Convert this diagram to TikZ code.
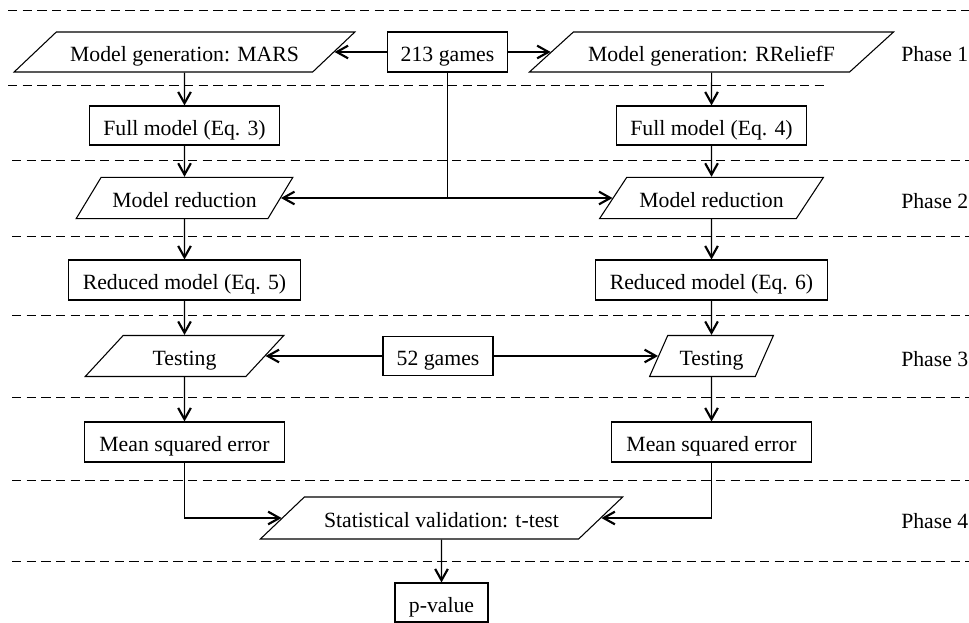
\documentclass[tikz,border=0pt]{standalone}
\usepackage{fontspec}
\setmainfont{Liberation Serif}
\usetikzlibrary{shapes.geometric,arrows.meta}
\begin{document}
\begin{tikzpicture}[x=0.75pt,y=-0.75pt,
  every node/.style={font=\fontsize{16.3}{19}\selectfont, text height=14.5pt, text depth=0pt},
  box/.style={draw, line width=0.8pt, rectangle, inner sep=2pt},
  para/.style={draw, line width=0.8pt, trapezium, trapezium stretches=true, inner sep=1pt},
  sepline/.style={line width=0.7pt, dash pattern=on 7pt off 4pt},
  conn/.style={line width=0.8pt, -{Straight Barb[length=8.5pt,width=9.5pt,line width=1.6pt]}},
  plain/.style={line width=0.8pt},
  phase/.style={anchor=west, inner sep=0pt}
]
\fill[white] (0,0) rectangle (969,623);
\useasboundingbox (0,0) rectangle (969,623);

% separators
\draw[sepline] (8,10.5) -- (969,10.5);
\draw[sepline] (8,85) -- (827,85);
\draw[sepline] (12,160) -- (969,160);
\draw[sepline] (12,236) -- (969,236);
\draw[sepline] (12,315) -- (969,315);
\draw[sepline] (12,397) -- (969,397);
\draw[sepline] (12,480) -- (969,480);
\draw[sepline] (12,561) -- (969,561);

% nodes
\node[para, trapezium left angle=30, trapezium right angle=150, minimum width=256.5pt, minimum height=30pt] (mars) at (184.5,52) {Model generation: MARS};
\node[box, minimum width=90pt, minimum height=30pt] (g213) at (447.5,52) {213 games};
\node[para, trapezium left angle=29, trapezium right angle=151, minimum width=273.75pt, minimum height=30pt] (rrel) at (711.5,52) {Model generation: RReliefF};

\node[box, minimum width=142.5pt, minimum height=29.25pt] (full3) at (184.5,125.5) {Full model (Eq. 3)};
\node[box, minimum width=142.5pt, minimum height=29.25pt] (full4) at (711.5,125.5) {Full model (Eq. 4)};

\node[para, trapezium left angle=45, trapezium right angle=135, minimum width=162.75pt, minimum height=31pt] (mr1) at (184.5,198) {Model reduction};
\node[para, trapezium left angle=43, trapezium right angle=137, minimum width=168pt, minimum height=31pt] (mr2) at (711.5,198) {Model reduction};

\node[box, minimum width=174pt, minimum height=30pt] (red5) at (184.5,280) {Reduced model (Eq. 5)};
\node[box, minimum width=174pt, minimum height=30pt] (red6) at (711.5,280) {Reduced model (Eq. 6)};

\node[para, trapezium left angle=47, trapezium right angle=133, minimum width=149.25pt, minimum height=30.75pt] (test1) at (184.5,356) {Testing};
\node[box, minimum width=82.5pt, minimum height=29.25pt] (g52) at (438,356) {52 games};
\node[para, trapezium left angle=58, trapezium right angle=122, minimum width=93pt, minimum height=30.75pt] (test2) at (711.5,356) {Testing};

\node[box, minimum width=150pt, minimum height=30pt] (mse1) at (184.5,442) {Mean squared error};
\node[box, minimum width=150pt, minimum height=30pt] (mse2) at (711.5,442) {Mean squared error};

\node[para, trapezium left angle=30, trapezium right angle=150, minimum width=272.25pt, minimum height=31.5pt] (stat) at (441.5,518) {Statistical validation: t-test};
\node[box, minimum width=69.75pt, minimum height=29.25pt] (pval) at (441.5,602.5) {p-value};

% phase labels
\node[phase] (ph1) at (901,52) {Phase 1};
\node[phase] (ph2) at (901,199) {Phase 2};
\node[phase] (ph3) at (901,357) {Phase 3};
\node[phase] (ph4) at (901,519) {Phase 4};

% connectors
\draw[conn] (g213.west) -- (mars.right side);
\draw[conn] (g213.east) -- (rrel.left side);
\draw[conn] (mars.south) -- (full3.north);
\draw[conn] (rrel.south) -- (full4.north);
\draw[conn] (full3.south) -- (mr1.north);
\draw[conn] (full4.south) -- (mr2.north);
\coordinate (j) at (g213.south |- mr1.center);
\draw[plain] (g213.south) -- (j);
\draw[conn] (j) -- (mr1.right side);
\draw[conn] (j) -- (mr2.left side);
\draw[conn] (mr1.south) -- (red5.north);
\draw[conn] (mr2.south) -- (red6.north);
\draw[conn] (red5.south) -- (test1.north);
\draw[conn] (red6.south) -- (test2.north);
\draw[conn] (g52.west) -- (test1.right side);
\draw[conn] (g52.east) -- (test2.left side);
\draw[conn] (test1.south) -- (mse1.north);
\draw[conn] (test2.south) -- (mse2.north);
\draw[conn] (mse1.south) |- (stat.left side);
\draw[conn] (mse2.south) |- (stat.right side);
\draw[conn] (stat.south) -- (pval.north);
\end{tikzpicture}
\end{document}
